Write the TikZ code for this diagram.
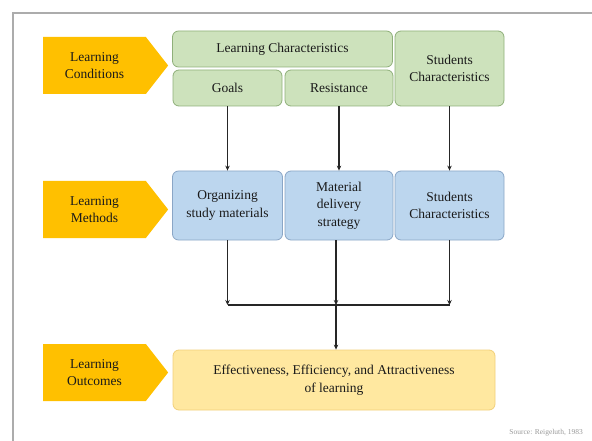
\documentclass[tikz,border=0pt]{standalone}
\usepackage{fontspec}
\setmainfont{Liberation Serif}
\usetikzlibrary{shapes.symbols,arrows.meta}
\definecolor{gfill}{HTML}{CDE2BC}
\definecolor{gline}{HTML}{8FB07A}
\definecolor{bfill}{HTML}{BCD6EE}
\definecolor{bline}{HTML}{8AA6C6}
\definecolor{yfill}{HTML}{FFE8A0}
\definecolor{yline}{HTML}{F1D07A}
\definecolor{ofill}{HTML}{FFC000}
\definecolor{txt}{HTML}{1A1A1A}
\tikzset{
  lbl/.style={signal, signal to=east, signal pointer angle=104, fill=ofill, draw=none,
    minimum width=125pt, minimum height=57pt, inner sep=0pt, align=center,
    text=txt, font=\fontsize{13.5}{17}\selectfont},
  box/.style={rounded corners=6pt, line width=0.8pt, align=center, inner sep=0pt,
    text=txt, font=\fontsize{13.5}{17.5}\selectfont},
  gbox/.style={box, fill=gfill, draw=gline},
  bbox/.style={box, fill=bfill, draw=bline},
  ybox/.style={box, fill=yfill, draw=yline},
  conn/.style={line width=1.2pt, draw=black!85},
  arr/.style={conn, -{Stealth[length=5pt,width=4.5pt]}}
}
\begin{document}
\begin{tikzpicture}[x=1pt,y=-1pt]
\useasboundingbox (0,0) rectangle (592,441);
\draw[gray!65, line width=1.3pt] (13,441) -- (13,13) -- (592,13);

% orange labels
\node[lbl] (lc) at (94.5,65.5) {Learning\\Conditions};
\node[lbl] (lm) at (94.5,209.5) {Learning\\Methods};
\node[lbl] (lo) at (94.5,372.5) {Learning\\Outcomes};

% green row
\node[gbox, minimum width=220pt, minimum height=36pt] (lchar) at (282.5,49) {Learning Characteristics};
\node[gbox, minimum width=109pt, minimum height=36pt] (goals) at (227.5,88) {Goals};
\node[gbox, minimum width=108pt, minimum height=36pt] (resist) at (339,88) {Resistance};
\node[gbox, minimum width=109pt, minimum height=75pt] (schar) at (449.5,68.5) {Students\\Characteristics};

% blue row
\node[bbox, minimum width=110pt, minimum height=69pt] (org) at (227.5,205.5) {Organizing\\study materials};
\node[bbox, minimum width=108pt, minimum height=69pt] (mat) at (339,205.5) {Material\\delivery\\strategy};
\node[bbox, minimum width=109pt, minimum height=69pt] (stud) at (449.5,205.5) {Students\\Characteristics};

% yellow
\node[ybox, minimum width=322pt, minimum height=60pt] (out) at (334,380) {Effectiveness, Efficiency, and Attractiveness\\of learning};

% connectors
\draw[arr] (goals.south) -- (org.north);
\draw[arr] (resist.south) -- (mat.north);
\draw[arr] (schar.south) -- (stud.north);

\coordinate (jl) at (227.5,305);
\coordinate (jm) at (336,305);
\coordinate (jr) at (449.5,305);
\draw[arr] (org.south) -- (jl);
\draw[arr] (mat.south -| jm) -- (jm);
\draw[arr] (stud.south) -- (jr);
\draw[conn] (jl) -- (jr);
\draw[arr] (jm) -- (jm |- out.north);

\node[anchor=east, text=gray!80, font=\fontsize{7.5}{8}\selectfont, inner sep=0pt] (src) at (583,433) {Source: Reigeluth, 1983};
\end{tikzpicture}
\end{document}
